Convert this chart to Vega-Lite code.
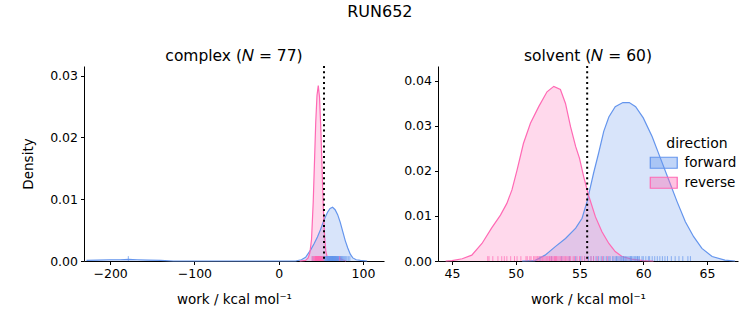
{
  "$schema": "https://vega.github.io/schema/vega-lite/v6.json",
  "title": {"text": "RUN652", "fontSize": 16, "font": "DejaVu Sans", "fontWeight": "normal", "color": "black", "anchor": "middle", "offset": 29},
  "padding": {"left": 21, "top": 3, "right": 5, "bottom": 5},
  "config": {
    "font": "DejaVu Sans",
    "view": {"stroke": null},
    "axis": {"domainColor": "black", "tickColor": "black", "labelColor": "black", "titleColor": "black", "labelFontSize": 12.5, "titleFontSize": 13.5, "titleFontWeight": "normal", "tickSize": 3.5, "labelPadding": 3, "grid": false, "domainWidth": 1, "tickWidth": 1, "labelFont": "DejaVu Sans", "titleFont": "DejaVu Sans", "zindex": 1},
    "axisX": {"titlePadding": 12},
    "title": {"fontSize": 15.5, "fontWeight": "normal", "font": "DejaVu Sans", "color": "black", "offset": 1}
  },
  "datasets": {
    "kde_complex": [
      {"x": -228, "density": 0.0001, "direction": "forward"},
      {"x": -215, "density": 0.00015, "direction": "forward"},
      {"x": -200, "density": 0.0002, "direction": "forward"},
      {"x": -188, "density": 0.0002, "direction": "forward"},
      {"x": -178, "density": 0.00025, "direction": "forward"},
      {"x": -168, "density": 0.0002, "direction": "forward"},
      {"x": -155, "density": 0.00015, "direction": "forward"},
      {"x": -140, "density": 0.0001, "direction": "forward"},
      {"x": -125, "density": 0, "direction": "forward"},
      {"x": 0, "density": 0, "direction": "forward"},
      {"x": 20, "density": 0, "direction": "forward"},
      {"x": 27, "density": 0.0002, "direction": "forward"},
      {"x": 32, "density": 0.0006, "direction": "forward"},
      {"x": 38, "density": 0.0018, "direction": "forward"},
      {"x": 42, "density": 0.0028, "direction": "forward"},
      {"x": 46, "density": 0.0039, "direction": "forward"},
      {"x": 50, "density": 0.0052, "direction": "forward"},
      {"x": 54, "density": 0.0067, "direction": "forward"},
      {"x": 58, "density": 0.0079, "direction": "forward"},
      {"x": 61, "density": 0.0085, "direction": "forward"},
      {"x": 64, "density": 0.0087, "direction": "forward"},
      {"x": 67, "density": 0.0083, "direction": "forward"},
      {"x": 70, "density": 0.0075, "direction": "forward"},
      {"x": 73, "density": 0.0063, "direction": "forward"},
      {"x": 76, "density": 0.0048, "direction": "forward"},
      {"x": 79, "density": 0.0033, "direction": "forward"},
      {"x": 82, "density": 0.0021, "direction": "forward"},
      {"x": 85, "density": 0.0011, "direction": "forward"},
      {"x": 88, "density": 0.0005, "direction": "forward"},
      {"x": 92, "density": 0.0002, "direction": "forward"},
      {"x": 97, "density": 0.0001, "direction": "forward"},
      {"x": 105, "density": 0, "direction": "forward"},
      {"x": 25, "density": 0, "direction": "reverse"},
      {"x": 32, "density": 0.0001, "direction": "reverse"},
      {"x": 35, "density": 0.0005, "direction": "reverse"},
      {"x": 37, "density": 0.0013, "direction": "reverse"},
      {"x": 39, "density": 0.0035, "direction": "reverse"},
      {"x": 41, "density": 0.0095, "direction": "reverse"},
      {"x": 42.5, "density": 0.016, "direction": "reverse"},
      {"x": 44, "density": 0.0225, "direction": "reverse"},
      {"x": 45.5, "density": 0.0268, "direction": "reverse"},
      {"x": 47, "density": 0.0284, "direction": "reverse"},
      {"x": 48.5, "density": 0.0265, "direction": "reverse"},
      {"x": 50, "density": 0.0215, "direction": "reverse"},
      {"x": 51.5, "density": 0.015, "direction": "reverse"},
      {"x": 53, "density": 0.0085, "direction": "reverse"},
      {"x": 54.5, "density": 0.004, "direction": "reverse"},
      {"x": 56, "density": 0.0015, "direction": "reverse"},
      {"x": 58, "density": 0.0004, "direction": "reverse"},
      {"x": 61, "density": 0.0001, "direction": "reverse"},
      {"x": 66, "density": 0.0001, "direction": "reverse"},
      {"x": 70, "density": 0.0003, "direction": "reverse"},
      {"x": 73, "density": 0.0004, "direction": "reverse"},
      {"x": 76, "density": 0.0002, "direction": "reverse"},
      {"x": 80, "density": 0, "direction": "reverse"}
    ],
    "kde_solvent": [
      {"x": 50.5, "density": 0, "direction": "forward"},
      {"x": 51.5, "density": 0.0001, "direction": "forward"},
      {"x": 52.3, "density": 0.0013, "direction": "forward"},
      {"x": 53.1, "density": 0.0032, "direction": "forward"},
      {"x": 53.9, "density": 0.005, "direction": "forward"},
      {"x": 54.7, "density": 0.0073, "direction": "forward"},
      {"x": 55.2, "density": 0.0095, "direction": "forward"},
      {"x": 55.6, "density": 0.0133, "direction": "forward"},
      {"x": 56.1, "density": 0.0195, "direction": "forward"},
      {"x": 56.5, "density": 0.024, "direction": "forward"},
      {"x": 56.9, "density": 0.0288, "direction": "forward"},
      {"x": 57.3, "density": 0.032, "direction": "forward"},
      {"x": 57.8, "density": 0.0343, "direction": "forward"},
      {"x": 58.4, "density": 0.0352, "direction": "forward"},
      {"x": 58.9, "density": 0.0352, "direction": "forward"},
      {"x": 59.4, "density": 0.0343, "direction": "forward"},
      {"x": 60.0, "density": 0.0318, "direction": "forward"},
      {"x": 60.7, "density": 0.0276, "direction": "forward"},
      {"x": 61.35, "density": 0.0228, "direction": "forward"},
      {"x": 62.0, "density": 0.018, "direction": "forward"},
      {"x": 62.65, "density": 0.0132, "direction": "forward"},
      {"x": 63.3, "density": 0.0087, "direction": "forward"},
      {"x": 63.95, "density": 0.0054, "direction": "forward"},
      {"x": 64.6, "density": 0.0028, "direction": "forward"},
      {"x": 65.4, "density": 0.001, "direction": "forward"},
      {"x": 66.4, "density": 0.0002, "direction": "forward"},
      {"x": 67.2, "density": 0, "direction": "forward"},
      {"x": 44.5, "density": 0, "direction": "reverse"},
      {"x": 45.0, "density": 0.0001, "direction": "reverse"},
      {"x": 45.8, "density": 0.0005, "direction": "reverse"},
      {"x": 46.55, "density": 0.0013, "direction": "reverse"},
      {"x": 47.35, "density": 0.0039, "direction": "reverse"},
      {"x": 48.1, "density": 0.0073, "direction": "reverse"},
      {"x": 48.8, "density": 0.0102, "direction": "reverse"},
      {"x": 49.3, "density": 0.0128, "direction": "reverse"},
      {"x": 49.7, "density": 0.0158, "direction": "reverse"},
      {"x": 50.1, "density": 0.0202, "direction": "reverse"},
      {"x": 50.6, "density": 0.0261, "direction": "reverse"},
      {"x": 51.15, "density": 0.0306, "direction": "reverse"},
      {"x": 51.8, "density": 0.0343, "direction": "reverse"},
      {"x": 52.45, "density": 0.0376, "direction": "reverse"},
      {"x": 52.98, "density": 0.0388, "direction": "reverse"},
      {"x": 53.5, "density": 0.0381, "direction": "reverse"},
      {"x": 53.9, "density": 0.035, "direction": "reverse"},
      {"x": 54.3, "density": 0.0298, "direction": "reverse"},
      {"x": 54.7, "density": 0.0254, "direction": "reverse"},
      {"x": 55.0, "density": 0.0228, "direction": "reverse"},
      {"x": 55.33, "density": 0.0187, "direction": "reverse"},
      {"x": 55.72, "density": 0.0145, "direction": "reverse"},
      {"x": 56.25, "density": 0.0098, "direction": "reverse"},
      {"x": 56.76, "density": 0.0065, "direction": "reverse"},
      {"x": 57.3, "density": 0.0039, "direction": "reverse"},
      {"x": 57.8, "density": 0.0021, "direction": "reverse"},
      {"x": 58.33, "density": 0.001, "direction": "reverse"},
      {"x": 59.1, "density": 0.0004, "direction": "reverse"},
      {"x": 60.0, "density": 0.0001, "direction": "reverse"},
      {"x": 60.8, "density": 0, "direction": "reverse"}
    ],
    "rug_complex": [
      {"x": -178.4, "direction": "forward"}, {"x": 40.5, "direction": "forward"}, {"x": 44.8, "direction": "forward"}, {"x": 47.9, "direction": "forward"}, {"x": 50.2, "direction": "forward"}, {"x": 51.8, "direction": "forward"}, {"x": 53.1, "direction": "forward"}, {"x": 54.2, "direction": "forward"}, {"x": 55.0, "direction": "forward"}, {"x": 55.7, "direction": "forward"}, {"x": 56.3, "direction": "forward"}, {"x": 56.9, "direction": "forward"}, {"x": 57.4, "direction": "forward"}, {"x": 57.9, "direction": "forward"}, {"x": 58.3, "direction": "forward"}, {"x": 58.7, "direction": "forward"}, {"x": 59.1, "direction": "forward"}, {"x": 59.5, "direction": "forward"}, {"x": 59.8, "direction": "forward"}, {"x": 60.1, "direction": "forward"}, {"x": 60.4, "direction": "forward"}, {"x": 60.7, "direction": "forward"}, {"x": 61.0, "direction": "forward"}, {"x": 61.3, "direction": "forward"}, {"x": 61.6, "direction": "forward"}, {"x": 61.8, "direction": "forward"}, {"x": 62.1, "direction": "forward"}, {"x": 62.3, "direction": "forward"}, {"x": 62.6, "direction": "forward"}, {"x": 62.8, "direction": "forward"}, {"x": 63.0, "direction": "forward"}, {"x": 63.2, "direction": "forward"}, {"x": 63.4, "direction": "forward"}, {"x": 63.6, "direction": "forward"}, {"x": 63.8, "direction": "forward"}, {"x": 64.0, "direction": "forward"}, {"x": 64.2, "direction": "forward"}, {"x": 64.4, "direction": "forward"}, {"x": 64.6, "direction": "forward"}, {"x": 64.8, "direction": "forward"}, {"x": 65.0, "direction": "forward"}, {"x": 65.2, "direction": "forward"}, {"x": 65.4, "direction": "forward"}, {"x": 65.6, "direction": "forward"}, {"x": 65.9, "direction": "forward"}, {"x": 66.1, "direction": "forward"}, {"x": 66.4, "direction": "forward"}, {"x": 66.6, "direction": "forward"}, {"x": 66.9, "direction": "forward"}, {"x": 67.2, "direction": "forward"}, {"x": 67.5, "direction": "forward"}, {"x": 67.8, "direction": "forward"}, {"x": 68.1, "direction": "forward"}, {"x": 68.4, "direction": "forward"}, {"x": 68.8, "direction": "forward"}, {"x": 69.1, "direction": "forward"}, {"x": 69.5, "direction": "forward"}, {"x": 69.9, "direction": "forward"}, {"x": 70.3, "direction": "forward"}, {"x": 70.7, "direction": "forward"}, {"x": 71.2, "direction": "forward"}, {"x": 71.7, "direction": "forward"}, {"x": 72.2, "direction": "forward"}, {"x": 72.8, "direction": "forward"}, {"x": 73.4, "direction": "forward"}, {"x": 74.0, "direction": "forward"}, {"x": 74.7, "direction": "forward"}, {"x": 75.5, "direction": "forward"}, {"x": 76.4, "direction": "forward"}, {"x": 77.4, "direction": "forward"}, {"x": 78.5, "direction": "forward"}, {"x": 79.7, "direction": "forward"}, {"x": 81.0, "direction": "forward"}, {"x": 82.6, "direction": "forward"}, {"x": 84.5, "direction": "forward"}, {"x": 60.9, "direction": "forward"}, {"x": 64.9, "direction": "forward"},
      {"x": 39.5, "direction": "reverse"}, {"x": 40.8, "direction": "reverse"}, {"x": 41.6, "direction": "reverse"}, {"x": 42.3, "direction": "reverse"}, {"x": 42.9, "direction": "reverse"}, {"x": 43.4, "direction": "reverse"}, {"x": 43.8, "direction": "reverse"}, {"x": 43.9, "direction": "reverse"}, {"x": 44.1, "direction": "reverse"}, {"x": 44.4, "direction": "reverse"}, {"x": 44.6, "direction": "reverse"}, {"x": 44.7, "direction": "reverse"}, {"x": 44.9, "direction": "reverse"}, {"x": 45.1, "direction": "reverse"}, {"x": 45.2, "direction": "reverse"}, {"x": 45.3, "direction": "reverse"}, {"x": 45.5, "direction": "reverse"}, {"x": 45.6, "direction": "reverse"}, {"x": 45.7, "direction": "reverse"}, {"x": 45.8, "direction": "reverse"}, {"x": 45.9, "direction": "reverse"}, {"x": 46.0, "direction": "reverse"}, {"x": 46.05, "direction": "reverse"}, {"x": 46.1, "direction": "reverse"}, {"x": 46.2, "direction": "reverse"}, {"x": 46.3, "direction": "reverse"}, {"x": 46.35, "direction": "reverse"}, {"x": 46.4, "direction": "reverse"}, {"x": 46.45, "direction": "reverse"}, {"x": 46.5, "direction": "reverse"}, {"x": 46.6, "direction": "reverse"}, {"x": 46.7, "direction": "reverse"}, {"x": 46.75, "direction": "reverse"}, {"x": 46.8, "direction": "reverse"}, {"x": 46.85, "direction": "reverse"}, {"x": 46.9, "direction": "reverse"}, {"x": 46.95, "direction": "reverse"}, {"x": 47.0, "direction": "reverse"}, {"x": 47.05, "direction": "reverse"}, {"x": 47.1, "direction": "reverse"}, {"x": 47.15, "direction": "reverse"}, {"x": 47.2, "direction": "reverse"}, {"x": 47.3, "direction": "reverse"}, {"x": 47.35, "direction": "reverse"}, {"x": 47.4, "direction": "reverse"}, {"x": 47.45, "direction": "reverse"}, {"x": 47.5, "direction": "reverse"}, {"x": 47.6, "direction": "reverse"}, {"x": 47.65, "direction": "reverse"}, {"x": 47.7, "direction": "reverse"}, {"x": 47.8, "direction": "reverse"}, {"x": 47.85, "direction": "reverse"}, {"x": 47.9, "direction": "reverse"}, {"x": 48.0, "direction": "reverse"}, {"x": 48.1, "direction": "reverse"}, {"x": 48.2, "direction": "reverse"}, {"x": 48.25, "direction": "reverse"}, {"x": 48.3, "direction": "reverse"}, {"x": 48.4, "direction": "reverse"}, {"x": 48.5, "direction": "reverse"}, {"x": 48.6, "direction": "reverse"}, {"x": 48.7, "direction": "reverse"}, {"x": 48.8, "direction": "reverse"}, {"x": 49.0, "direction": "reverse"}, {"x": 49.1, "direction": "reverse"}, {"x": 49.2, "direction": "reverse"}, {"x": 49.4, "direction": "reverse"}, {"x": 49.6, "direction": "reverse"}, {"x": 49.8, "direction": "reverse"}, {"x": 50.1, "direction": "reverse"}, {"x": 50.4, "direction": "reverse"}, {"x": 50.8, "direction": "reverse"}, {"x": 51.3, "direction": "reverse"}, {"x": 51.9, "direction": "reverse"}, {"x": 52.7, "direction": "reverse"}, {"x": 53.5, "direction": "reverse"}, {"x": 72.5, "direction": "reverse"}
    ],
    "rug_solvent": [
      {"x": 51.9, "direction": "forward"}, {"x": 52.8, "direction": "forward"}, {"x": 53.6, "direction": "forward"}, {"x": 54.2, "direction": "forward"}, {"x": 54.7, "direction": "forward"}, {"x": 55.1, "direction": "forward"}, {"x": 55.4, "direction": "forward"}, {"x": 55.7, "direction": "forward"}, {"x": 55.9, "direction": "forward"}, {"x": 56.1, "direction": "forward"}, {"x": 56.3, "direction": "forward"}, {"x": 56.5, "direction": "forward"}, {"x": 56.7, "direction": "forward"}, {"x": 56.9, "direction": "forward"}, {"x": 57.1, "direction": "forward"}, {"x": 57.3, "direction": "forward"}, {"x": 57.4, "direction": "forward"}, {"x": 57.6, "direction": "forward"}, {"x": 57.7, "direction": "forward"}, {"x": 57.9, "direction": "forward"}, {"x": 58.0, "direction": "forward"}, {"x": 58.1, "direction": "forward"}, {"x": 58.2, "direction": "forward"}, {"x": 58.3, "direction": "forward"}, {"x": 58.4, "direction": "forward"}, {"x": 58.5, "direction": "forward"}, {"x": 58.6, "direction": "forward"}, {"x": 58.7, "direction": "forward"}, {"x": 58.8, "direction": "forward"}, {"x": 58.9, "direction": "forward"}, {"x": 59.0, "direction": "forward"}, {"x": 59.1, "direction": "forward"}, {"x": 59.2, "direction": "forward"}, {"x": 59.3, "direction": "forward"}, {"x": 59.4, "direction": "forward"}, {"x": 59.5, "direction": "forward"}, {"x": 59.6, "direction": "forward"}, {"x": 59.7, "direction": "forward"}, {"x": 59.9, "direction": "forward"}, {"x": 60.0, "direction": "forward"}, {"x": 60.2, "direction": "forward"}, {"x": 60.4, "direction": "forward"}, {"x": 60.5, "direction": "forward"}, {"x": 60.7, "direction": "forward"}, {"x": 60.9, "direction": "forward"}, {"x": 61.1, "direction": "forward"}, {"x": 61.3, "direction": "forward"}, {"x": 61.5, "direction": "forward"}, {"x": 61.7, "direction": "forward"}, {"x": 61.9, "direction": "forward"}, {"x": 62.2, "direction": "forward"}, {"x": 62.5, "direction": "forward"}, {"x": 62.8, "direction": "forward"}, {"x": 63.1, "direction": "forward"}, {"x": 63.5, "direction": "forward"}, {"x": 63.7, "direction": "forward"}, {"x": 58.45, "direction": "forward"}, {"x": 59.05, "direction": "forward"}, {"x": 57.85, "direction": "forward"}, {"x": 59.55, "direction": "forward"},
      {"x": 47.8, "direction": "reverse"}, {"x": 47.9, "direction": "reverse"}, {"x": 48.2, "direction": "reverse"}, {"x": 48.6, "direction": "reverse"}, {"x": 48.9, "direction": "reverse"}, {"x": 49.1, "direction": "reverse"}, {"x": 49.3, "direction": "reverse"}, {"x": 49.6, "direction": "reverse"}, {"x": 49.9, "direction": "reverse"}, {"x": 50.1, "direction": "reverse"}, {"x": 50.4, "direction": "reverse"}, {"x": 50.8, "direction": "reverse"}, {"x": 50.9, "direction": "reverse"}, {"x": 51.1, "direction": "reverse"}, {"x": 51.2, "direction": "reverse"}, {"x": 51.4, "direction": "reverse"}, {"x": 51.5, "direction": "reverse"}, {"x": 51.6, "direction": "reverse"}, {"x": 51.8, "direction": "reverse"}, {"x": 51.9, "direction": "reverse"}, {"x": 52.0, "direction": "reverse"}, {"x": 52.1, "direction": "reverse"}, {"x": 52.3, "direction": "reverse"}, {"x": 52.4, "direction": "reverse"}, {"x": 52.5, "direction": "reverse"}, {"x": 52.6, "direction": "reverse"}, {"x": 52.7, "direction": "reverse"}, {"x": 52.8, "direction": "reverse"}, {"x": 52.9, "direction": "reverse"}, {"x": 53.0, "direction": "reverse"}, {"x": 53.1, "direction": "reverse"}, {"x": 53.2, "direction": "reverse"}, {"x": 53.3, "direction": "reverse"}, {"x": 53.4, "direction": "reverse"}, {"x": 53.5, "direction": "reverse"}, {"x": 53.6, "direction": "reverse"}, {"x": 53.7, "direction": "reverse"}, {"x": 53.8, "direction": "reverse"}, {"x": 53.9, "direction": "reverse"}, {"x": 54.0, "direction": "reverse"}, {"x": 54.2, "direction": "reverse"}, {"x": 54.3, "direction": "reverse"}, {"x": 54.5, "direction": "reverse"}, {"x": 54.6, "direction": "reverse"}, {"x": 54.8, "direction": "reverse"}, {"x": 55.0, "direction": "reverse"}, {"x": 55.2, "direction": "reverse"}, {"x": 55.4, "direction": "reverse"}, {"x": 55.6, "direction": "reverse"}, {"x": 55.9, "direction": "reverse"}, {"x": 56.1, "direction": "reverse"}, {"x": 56.4, "direction": "reverse"}, {"x": 56.8, "direction": "reverse"}, {"x": 57.2, "direction": "reverse"}, {"x": 52.2, "direction": "reverse"}, {"x": 53.15, "direction": "reverse"}, {"x": 52.65, "direction": "reverse"}, {"x": 51.7, "direction": "reverse"}, {"x": 53.05, "direction": "reverse"}, {"x": 54.1, "direction": "reverse"}
    ],
    "ref": [
      {"panel": "complex", "x": 53.8},
      {"panel": "solvent", "x": 55.6}
    ]
  },
  "spacing": 19,
  "resolve": {"legend": {"color": "independent"}},
  "hconcat": [
    {
      "width": 300,
      "height": 195,
      "title": {"text": "complex (𝑁 = 77)"},
      "layer": [
        {
          "data": {"name": "kde_complex"},
          "mark": {"type": "area", "fillOpacity": 0.25},
          "encoding": {
            "x": {"field": "x", "type": "quantitative", "scale": {"domain": [-231, 125], "nice": false, "zero": false}, "axis": {"values": [-200, -100, 0, 100], "title": "work / kcal mol⁻¹"}},
            "y": {"field": "density", "type": "quantitative", "stack": null, "scale": {"domain": [0, 0.03155], "nice": false}, "axis": {"values": [0, 0.01, 0.02, 0.03], "format": ".2f", "title": "Density", "titlePadding": 14}},
            "color": {"field": "direction", "type": "nominal", "scale": {"domain": ["forward", "reverse"], "range": ["#6495ED", "#FF69B4"]}, "legend": null}
          }
        },
        {
          "data": {"name": "kde_complex"},
          "mark": {"type": "line", "strokeWidth": 1.2},
          "encoding": {
            "x": {"field": "x", "type": "quantitative"},
            "y": {"field": "density", "type": "quantitative"},
            "color": {"field": "direction", "type": "nominal", "legend": null}
          }
        },
        {
          "data": {"name": "rug_complex"},
          "mark": {"type": "rule", "strokeWidth": 1, "opacity": 0.7},
          "encoding": {
            "x": {"field": "x", "type": "quantitative"},
            "y": {"datum": 0},
            "y2": {"datum": 0.00079},
            "color": {"field": "direction", "type": "nominal", "legend": null}
          }
        },
        {
          "data": {"name": "ref"},
          "transform": [{"filter": "datum.panel === 'complex'"}],
          "mark": {"type": "rule", "color": "black", "strokeWidth": 2, "strokeDash": [2, 3.3]},
          "encoding": {"x": {"field": "x", "type": "quantitative"}}
        }
      ]
    },
    {
      "width": 300,
      "height": 195,
      "title": {"text": "solvent (𝑁 = 60)"},
      "layer": [
        {
          "data": {"name": "kde_solvent"},
          "mark": {"type": "area", "fillOpacity": 0.25},
          "encoding": {
            "x": {"field": "x", "type": "quantitative", "scale": {"domain": [43.9, 67.43], "nice": false, "zero": false}, "axis": {"values": [45, 50, 55, 60, 65], "title": "work / kcal mol⁻¹"}},
            "y": {"field": "density", "type": "quantitative", "stack": null, "scale": {"domain": [0, 0.04333], "nice": false}, "axis": {"values": [0, 0.01, 0.02, 0.03, 0.04], "format": ".2f", "title": null}},
            "color": {"field": "direction", "type": "nominal", "scale": {"domain": ["forward", "reverse"], "range": ["#6495ED", "#FF69B4"]},
              "legend": {"orient": "none", "legendX": 219, "legendY": 71, "title": "direction", "symbolType": "M-2.45,-1H2.45V1H-2.45Z", "symbolSize": 121, "symbolStrokeWidth": 1.2, "labelFontSize": 13.5, "titleFontSize": 14, "titleFontWeight": "normal", "titleColor": "black", "labelColor": "black", "titleAnchor": "middle", "padding": 0, "rowPadding": 3, "labelOffset": 14,
                "encode": {"symbols": {"update": {"fillOpacity": {"value": 0.4}, "stroke": {"field": "value", "scale": "color"}, "strokeWidth": {"value": 1.2}}}}}}
          }
        },
        {
          "data": {"name": "kde_solvent"},
          "mark": {"type": "line", "strokeWidth": 1.2},
          "encoding": {
            "x": {"field": "x", "type": "quantitative"},
            "y": {"field": "density", "type": "quantitative"},
            "color": {"field": "direction", "type": "nominal"}
          }
        },
        {
          "data": {"name": "rug_solvent"},
          "mark": {"type": "rule", "strokeWidth": 1, "opacity": 0.7},
          "encoding": {
            "x": {"field": "x", "type": "quantitative"},
            "y": {"datum": 0},
            "y2": {"datum": 0.00108},
            "color": {"field": "direction", "type": "nominal"}
          }
        },
        {
          "data": {"name": "ref"},
          "transform": [{"filter": "datum.panel === 'solvent'"}],
          "mark": {"type": "rule", "color": "black", "strokeWidth": 2, "strokeDash": [2, 3.3]},
          "encoding": {"x": {"field": "x", "type": "quantitative"}}
        }
      ]
    }
  ]
}
